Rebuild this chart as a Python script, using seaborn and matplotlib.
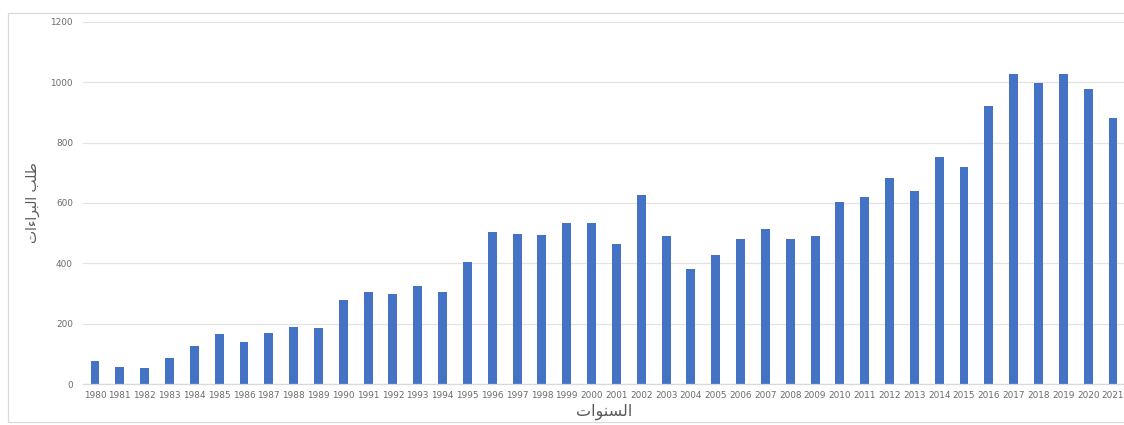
import matplotlib
matplotlib.use("Agg")
import matplotlib.pyplot as plt
import matplotlib.patches as mpatches
import seaborn as sns
import pandas as pd

# ---- data ----
years = [str(y) for y in range(1980, 2022)]
applications = [75, 57, 52, 86, 126, 167, 140, 169, 189, 185,
                277, 306, 299, 325, 306, 406, 503, 498, 493, 535,
                534, 463, 627, 492, 381, 426, 480, 515, 480, 489,
                604, 619, 684, 641, 753, 718, 921, 1027, 998, 1029,
                979, 881]
y_ticks = [0, 200, 400, 600, 800, 1000, 1200]
x_title = "السنوات"
y_title = "طلب البراءات"

# ---- minimal Arabic shaping (presentation forms + visual order) ----
FORMS = {
    'ا': ('\uFE8D', '\uFE8E', None, None),
    'ل': ('\uFEDD', '\uFEDE', '\uFEDF', '\uFEE0'),
    'س': ('\uFEB1', '\uFEB2', '\uFEB3', '\uFEB4'),
    'ن': ('\uFEE5', '\uFEE6', '\uFEE7', '\uFEE8'),
    'و': ('\uFEED', '\uFEEE', None, None),
    'ت': ('\uFE95', '\uFE96', '\uFE97', '\uFE98'),
    'ط': ('\uFEC1', '\uFEC2', '\uFEC3', '\uFEC4'),
    'ب': ('\uFE8F', '\uFE90', '\uFE91', '\uFE92'),
    'ر': ('\uFEAD', '\uFEAE', None, None),
    'ء': ('\uFE80', None, None, None),
}


def dual(c):
    return c in FORMS and FORMS[c][2] is not None


def right_joins(c):
    return c in FORMS and FORMS[c][1] is not None


def shape(text):
    out = []
    n = len(text)
    for i, c in enumerate(text):
        if c not in FORMS:
            out.append(c)
            continue
        prev = text[i - 1] if i > 0 else ''
        nxt = text[i + 1] if i < n - 1 else ''
        jp = dual(prev) and right_joins(c)
        jn = dual(c) and right_joins(nxt)
        iso, fin, ini, med = FORMS[c]
        if jp and jn:
            out.append(med)
        elif jp:
            out.append(fin)
        elif jn:
            out.append(ini)
        else:
            out.append(iso)
    return ''.join(out)[::-1]


sns.set_theme(style="white")
plt.rcParams['font.family'] = ['DejaVu Sans']

df = pd.DataFrame({"year": years, "value": applications})

fig = plt.figure(figsize=(11.24, 4.25), dpi=100)
ax_w = (1125.4 - 82.6)
ax = fig.add_axes([82.6 / 1124, 41 / 425, ax_w / 1124, 362 / 425])

sns.barplot(data=df, x="year", y="value", color="#4472C4", saturation=1,
            width=0.36, linewidth=0, ax=ax)

ax.set_ylim(0, 1200)
ax.set_xlim(-0.5, len(years) - 0.5)
ax.set_yticks(y_ticks)
ax.set_yticklabels([str(t) for t in y_ticks])
ax.tick_params(axis='both', length=0, labelsize=6.4, labelcolor='#6b6b6b')
ax.tick_params(axis='y', pad=7)
ax.tick_params(axis='x', pad=5)
ax.yaxis.grid(True, color='#E3E3E3', lw=0.9)
ax.set_axisbelow(True)
for s in ['top', 'right', 'left']:
    ax.spines[s].set_visible(False)
ax.spines['bottom'].set_color('#D9D9D9')
ax.spines['bottom'].set_linewidth(0.9)

ax.set_xlabel(shape(x_title), fontsize=11.5, color='#595959', labelpad=3)
ax.set_ylabel(shape(y_title), fontsize=10, color='#595959')
ax.yaxis.set_label_coords((40 - 82.6) / ax_w, 0.5)

# outer chart border
fig.patches.append(mpatches.Rectangle((8 / 1124, 3 / 425), 1.2, (422 - 12.5) / 425,
                                      transform=fig.transFigure, fill=False,
                                      edgecolor='#DADADA', lw=0.9))

fig.savefig("out.png", dpi=100)
